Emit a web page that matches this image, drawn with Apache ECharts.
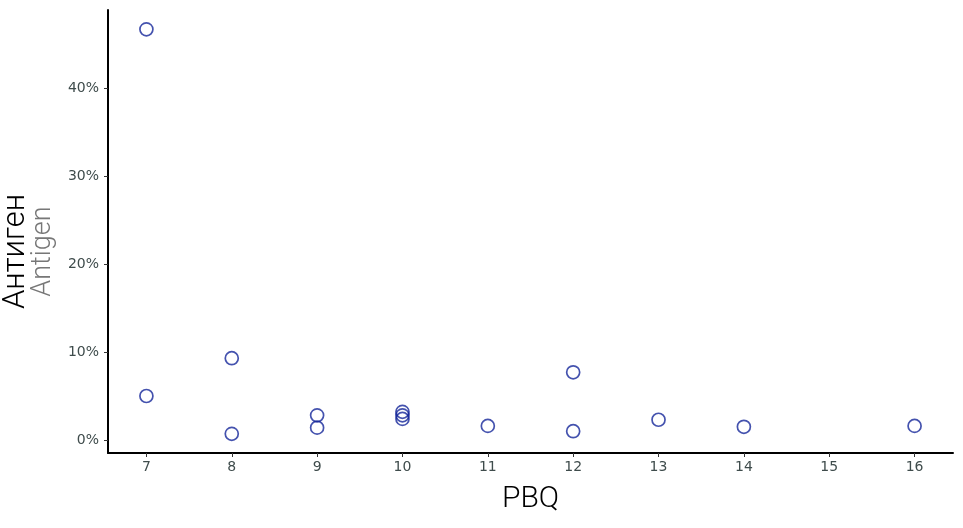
<!DOCTYPE html>
<html>
<head>
<meta charset="utf-8">
<title>PBQ / Антиген</title>
<script src="https://cdn.jsdelivr.net/npm/echarts@6/dist/echarts.min.js"></script>
<style>
  html, body { margin: 0; padding: 0; background: #fff; }
  #chart { width: 963px; height: 528px; }
</style>
</head>
<body>
<div id="chart"></div>
<script>
// PBQ score on x, antigen share (%) on y
var pbq = [7, 7, 8, 8, 9, 9, 10, 10, 10, 11, 12, 12, 13, 14, 16];
var antigen = [46.7, 5.0, 9.3, 0.7, 2.8, 1.4, 3.2, 2.8, 2.4, 1.6, 7.7, 1.0, 2.3, 1.5, 1.6];
var xTicks = [7, 8, 9, 10, 11, 12, 13, 14, 15, 16];
var yTicks = [0, 10, 20, 30, 40];

var points = [];
for (var i = 0; i < pbq.length; i++) {
  points.push([pbq[i], antigen[i]]);
}

var labelColor = '#3f4c4c';
var titleFont = 'Roboto';
var myChart = echarts.init(document.getElementById('chart'));
myChart.setOption({
  animation: false,
  backgroundColor: '#fff',
  grid: { left: 108, right: 10, top: 10, bottom: 75, outerBoundsMode: 'none', containLabel: false },
  xAxis: {
    type: 'value',
    min: 6.55,
    max: 16.45,
    name: 'PBQ',
    nameLocation: 'middle',
    nameGap: 31,
    nameTextStyle: { fontSize: 30, color: '#000', fontFamily: titleFont, fontWeight: 300 },
    axisLine: { show: true, onZero: false, lineStyle: { color: '#000', width: 2 } },
    axisTick: { show: true, customValues: xTicks, length: 4, lineStyle: { color: '#333' } },
    axisLabel: { customValues: xTicks, color: labelColor, fontSize: 14, margin: 7, fontFamily: 'DejaVu Sans' },
    splitLine: { show: false }
  },
  yAxis: {
    type: 'value',
    min: -1.48,
    max: 48.9,
    name: 'Антиген\n{sub|Antigen}',
    nameLocation: 'middle',
    nameRotate: 90,
    nameGap: 50,
    nameTextStyle: {
      fontSize: 31,
      color: '#000',
      lineHeight: 28,
      fontFamily: titleFont,
      fontWeight: 300,
      padding: [0, 40, 0, 0],
      rich: {
        sub: { fontSize: 27, color: '#777', lineHeight: 26, fontFamily: titleFont, fontWeight: 300 }
      }
    },
    axisLine: { show: true, onZero: false, lineStyle: { color: '#000', width: 2 } },
    axisTick: { show: true, customValues: yTicks, length: 4, lineStyle: { color: '#333' } },
    axisLabel: {
      customValues: yTicks,
      color: labelColor,
      fontSize: 14,
      margin: 9,
      fontFamily: 'DejaVu Sans',
      formatter: '{value}%'
    },
    splitLine: { show: false }
  },
  series: [{
    type: 'scatter',
    data: points,
    symbol: 'circle',
    symbolSize: 13,
    itemStyle: { color: 'rgba(255,255,255,0)', borderColor: '#15279a', borderWidth: 1.7 }
  }]
});
</script>
</body>
</html>
